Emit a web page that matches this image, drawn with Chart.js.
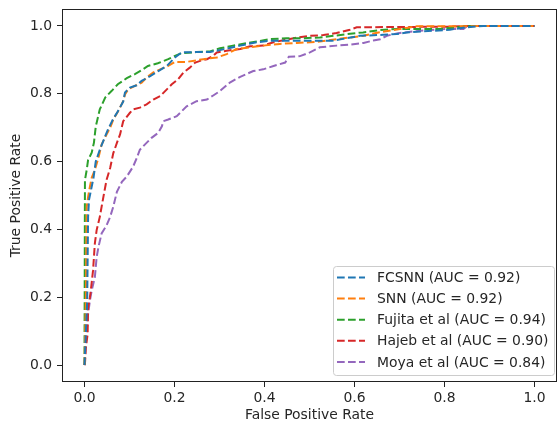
<!DOCTYPE html>
<html>
<head>
<meta charset="utf-8">
<script src="https://cdn.jsdelivr.net/npm/chart.js@4.4.1/dist/chart.umd.min.js"></script>
<style>
  html, body { margin: 0; padding: 0; background: #fff; }
  #wrap { width: 558px; height: 427px; }
</style>
</head>
<body>
<div id="wrap"><canvas id="roc" width="558" height="427"></canvas></div>
<script>
// ROC curves
const seriesLabels = [
  'FCSNN (AUC = 0.92)',
  'SNN (AUC = 0.92)',
  'Fujita et al (AUC = 0.94)',
  'Hajeb et al (AUC = 0.90)',
  'Moya et al (AUC = 0.84)'
];
const seriesColors = ['#1f77b4', '#ff7f0e', '#2ca02c', '#d62728', '#9467bd'];
const tickValues = [0.0, 0.2, 0.4, 0.6, 0.8, 1.0];

const fcsnnFpr = [0, 0.006, 0.008, 0.01, 0.02, 0.025, 0.034, 0.043, 0.052, 0.063, 0.074, 0.086, 0.09, 0.101, 0.116, 0.127, 0.146, 0.164, 0.183, 0.201, 0.216, 0.248, 0.279, 0.312, 0.346, 0.383, 0.412, 0.55, 0.612, 0.664, 0.694, 0.716, 0.753, 0.812, 0.849, 0.886, 1.0];
const fcsnnTpr = [0, 0.19, 0.437, 0.487, 0.552, 0.6, 0.635, 0.665, 0.694, 0.724, 0.748, 0.777, 0.804, 0.818, 0.825, 0.838, 0.852, 0.867, 0.882, 0.907, 0.922, 0.923, 0.923, 0.932, 0.942, 0.952, 0.956, 0.956, 0.971, 0.974, 0.976, 0.981, 0.984, 0.989, 0.996, 1.0, 1.0];

const snnFpr = [0, 0.003, 0.005, 0.008, 0.012, 0.016, 0.023, 0.031, 0.038, 0.049, 0.057, 0.064, 0.075, 0.086, 0.09, 0.097, 0.112, 0.127, 0.138, 0.153, 0.172, 0.186, 0.201, 0.227, 0.264, 0.294, 0.316, 0.338, 0.368, 0.397, 0.434, 0.472, 0.516, 0.56, 0.59, 0.62, 0.642, 0.701, 0.738, 1.0];
const snnTpr = [0, 0.19, 0.467, 0.496, 0.526, 0.552, 0.576, 0.611, 0.65, 0.68, 0.70, 0.724, 0.749, 0.778, 0.798, 0.813, 0.823, 0.833, 0.848, 0.863, 0.874, 0.882, 0.894, 0.894, 0.902, 0.907, 0.917, 0.932, 0.937, 0.942, 0.947, 0.95, 0.953, 0.961, 0.966, 0.971, 0.978, 0.991, 0.999, 1.0];

const fujitaFpr = [0, 0.001, 0.005, 0.008, 0.016, 0.021, 0.025, 0.034, 0.046, 0.06, 0.074, 0.094, 0.112, 0.13, 0.141, 0.163, 0.186, 0.201, 0.216, 0.249, 0.279, 0.301, 0.33, 0.36, 0.39, 0.412, 0.449, 0.486, 0.523, 0.56, 0.583, 0.619, 0.657, 0.694, 0.738, 0.79, 0.827, 0.849, 1.0];
const fujitaTpr = [0, 0.546, 0.576, 0.605, 0.626, 0.656, 0.703, 0.754, 0.789, 0.808, 0.828, 0.846, 0.858, 0.872, 0.882, 0.89, 0.902, 0.912, 0.92, 0.923, 0.925, 0.934, 0.942, 0.949, 0.956, 0.961, 0.964, 0.964, 0.966, 0.972, 0.976, 0.981, 0.988, 0.991, 0.991, 0.991, 0.996, 1.0, 1.0];

const hajebFpr = [0, 0.001, 0.003, 0.007, 0.008, 0.012, 0.014, 0.019, 0.023, 0.027, 0.034, 0.042, 0.049, 0.057, 0.064, 0.072, 0.079, 0.086, 0.101, 0.108, 0.123, 0.138, 0.153, 0.168, 0.183, 0.194, 0.208, 0.22, 0.234, 0.246, 0.257, 0.272, 0.286, 0.294, 0.316, 0.346, 0.368, 0.397, 0.42, 0.442, 0.472, 0.501, 0.531, 0.56, 0.59, 0.605, 0.812, 0.842, 1.0];
const hajebTpr = [0, 0.003, 0.05, 0.092, 0.17, 0.2, 0.22, 0.279, 0.359, 0.398, 0.437, 0.496, 0.546, 0.581, 0.625, 0.655, 0.68, 0.719, 0.744, 0.754, 0.759, 0.769, 0.783, 0.793, 0.813, 0.828, 0.843, 0.863, 0.877, 0.892, 0.897, 0.902, 0.912, 0.922, 0.927, 0.932, 0.94, 0.942, 0.952, 0.958, 0.966, 0.971, 0.973, 0.979, 0.989, 0.996, 0.998, 1.0, 1.0];

const moyaFpr = [0, 0.001, 0.002, 0.005, 0.008, 0.012, 0.016, 0.023, 0.027, 0.031, 0.038, 0.049, 0.057, 0.064, 0.072, 0.083, 0.094, 0.108, 0.116, 0.123, 0.134, 0.149, 0.164, 0.172, 0.175, 0.186, 0.205, 0.227, 0.249, 0.272, 0.286, 0.301, 0.323, 0.346, 0.375, 0.397, 0.42, 0.446, 0.454, 0.479, 0.501, 0.523, 0.56, 0.59, 0.62, 0.642, 0.657, 0.672, 0.694, 0.731, 0.768, 0.805, 0.842, 0.849, 0.857, 1.0];
const moyaTpr = [0, 0.012, 0.051, 0.1, 0.15, 0.19, 0.22, 0.259, 0.318, 0.348, 0.388, 0.412, 0.437, 0.467, 0.511, 0.54, 0.556, 0.585, 0.61, 0.635, 0.65, 0.67, 0.685, 0.704, 0.719, 0.724, 0.734, 0.763, 0.778, 0.783, 0.795, 0.808, 0.833, 0.85, 0.867, 0.872, 0.882, 0.892, 0.909, 0.911, 0.922, 0.937, 0.942, 0.945, 0.95, 0.957, 0.961, 0.971, 0.978, 0.984, 0.988, 0.991, 0.991, 0.998, 1.0, 1.0];

const allFpr = [fcsnnFpr, snnFpr, fujitaFpr, hajebFpr, moyaFpr];
const allTpr = [fcsnnTpr, snnTpr, fujitaTpr, hajebTpr, moyaTpr];

const FONT = '"DejaVu Sans", sans-serif';
const FS = 13.9;
const INK = '#262626';
const dash = [7.7, 3.3];

function toPoints(xs, ys) {
  return xs.map((x, i) => ({ x: x, y: ys[i] }));
}

let datasets = seriesLabels.map((lab, i) => ({
  label: lab,
  data: toPoints(allFpr[i], allTpr[i]),
  borderColor: seriesColors[i],
  backgroundColor: seriesColors[i],
  borderWidth: 2,
  borderDash: dash,
  showLine: true,
  pointRadius: 0,
  tension: 0,
  fill: false
}));

// frame box + matplotlib-like legend in the lower right
const framePlugin = {
  id: 'framePlugin',
  afterDraw(chart) {
    const { ctx, chartArea: a } = chart;
    ctx.save();
    ctx.strokeStyle = '#222';
    ctx.lineWidth = 1;
    ctx.setLineDash([]);
    ctx.strokeRect(Math.round(a.left) + 0.5, Math.round(a.top) + 0.5,
      Math.round(a.right - a.left) - 1, Math.round(a.bottom - a.top) - 1);

    const w = 221, h = 109, rowH = 21.1;
    const x0 = Math.round(a.right - 3 - w), y0 = Math.round(a.bottom - 7 - h);
    ctx.beginPath();
    ctx.roundRect(x0 + 0.5, y0 + 0.5, w, h, 3);
    ctx.fillStyle = 'rgba(255,255,255,0.8)';
    ctx.fill();
    ctx.strokeStyle = '#cccccc';
    ctx.stroke();

    ctx.font = FS + 'px ' + FONT;
    ctx.textBaseline = 'middle';
    chart.data.datasets.forEach((ds, i) => {
      const y = y0 + 11.5 + i * rowH;
      ctx.setLineDash(ds.borderDash);
      ctx.strokeStyle = ds.borderColor;
      ctx.lineWidth = ds.borderWidth;
      ctx.beginPath();
      ctx.moveTo(x0 + 4, y);
      ctx.lineTo(x0 + 32, y);
      ctx.stroke();
      ctx.setLineDash([]);
      ctx.fillStyle = INK;
      ctx.fillText(ds.label, x0 + 44, y + 1);
    });
    ctx.restore();
  }
};

function fixedTicks(scale) {
  scale.ticks = tickValues.map(v => ({ value: v }));
}

new Chart(document.getElementById('roc'), {
  type: 'scatter',
  data: { datasets: datasets },
  options: {
    responsive: false,
    animation: false,
    devicePixelRatio: 1,
    layout: { padding: { top: 9, right: 1, left: 0, bottom: 0 } },
    plugins: {
      legend: { display: false },
      tooltip: { enabled: false }
    },
    scales: {
      x: {
        type: 'linear',
        min: -0.05, max: 1.05,
        afterBuildTicks: fixedTicks,
        afterFit: s => { s.height = 45; s.paddingLeft = 0; s.paddingRight = 0; },
        grid: { drawOnChartArea: false, drawTicks: true, tickLength: 5, color: '#222' },
        border: { display: false },
        ticks: { color: INK, font: { family: FONT, size: FS }, padding: 3,
          maxRotation: 0, autoSkip: false, callback: v => v.toFixed(1) },
        title: { display: true, text: 'False Positive Rate', color: INK,
          font: { family: FONT, size: FS }, padding: { top: 0, bottom: 3 } }
      },
      y: {
        type: 'linear',
        min: -0.05, max: 1.05,
        afterBuildTicks: fixedTicks,
        afterFit: s => { s.width = 62; s.paddingTop = 0; s.paddingBottom = 0; },
        grid: { drawOnChartArea: false, drawTicks: true, tickLength: 5, color: '#222' },
        border: { display: false },
        ticks: { color: INK, font: { family: FS ? FONT : FONT, size: FS }, padding: 5,
          autoSkip: false, callback: v => v.toFixed(1) },
        title: { display: true, text: 'True Positive Rate', color: INK,
          font: { family: FONT, size: FS }, padding: { top: 8.5, bottom: 0 } }
      }
    }
  },
  plugins: [framePlugin]
});
</script>
</body>
</html>
